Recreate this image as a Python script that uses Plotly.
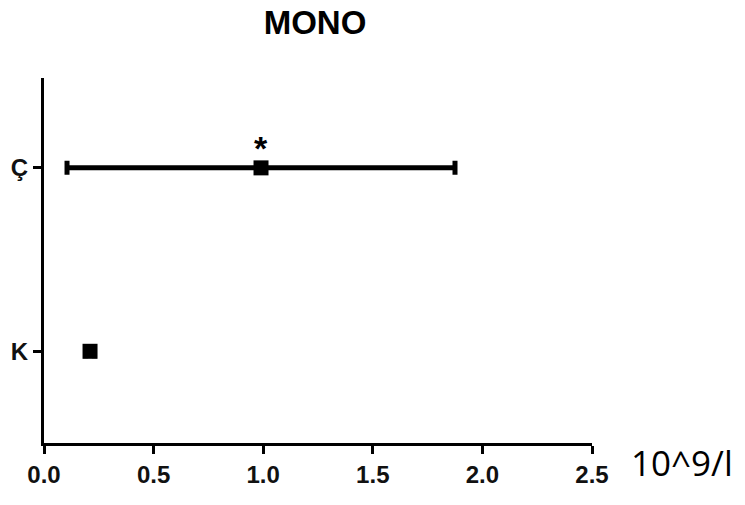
import plotly.graph_objects as go

categories = ["K", "Ç"]
means = [0.21, 0.99]
err_low = [0.02, 0.885]
err_high = [0.02, 0.885]
x_ticks = [0.0, 0.5, 1.0, 1.5, 2.0, 2.5]
x_tick_labels = ["0.0", "0.5", "1.0", "1.5", "2.0", "2.5"]
y_pos = [0, 1]

fig = go.Figure()
fig.add_trace(go.Scatter(
    x=means, y=y_pos, mode="markers",
    marker=dict(symbol="square", size=15, color="black"),
    error_x=dict(type="data", symmetric=False, array=err_high, arrayminus=err_low,
                 color="black", thickness=5, width=7),
    showlegend=False,
))

fig.add_annotation(x=means[1], y=y_pos[1], text="<b>*</b>", showarrow=False,
                   yshift=20, font=dict(family="Arial", size=34, color="black"))
fig.add_annotation(x=1, xref="paper", y=0, yref="paper", text="10^9/l", showarrow=False,
                   xanchor="left", yanchor="middle", xshift=37, yshift=-19,
                   font=dict(family="Open Sans", size=35, color="black"))

fig.update_layout(
    width=745, height=505,
    margin=dict(l=44, r=153, t=78, b=62),
    paper_bgcolor="white", plot_bgcolor="white",
    title=dict(text="<b>MONO</b>", x=315/745, xanchor="center", y=1 - 22/505, yanchor="middle",
               font=dict(family="Arial", size=33, color="black")),
    xaxis=dict(range=[0, 2.5], tickvals=x_ticks, ticktext=[f"<b>{t}</b>" for t in x_tick_labels],
               showline=True, linecolor="black", linewidth=3, ticks="outside", ticklen=8,
               tickwidth=3, tickcolor="black", showgrid=False, zeroline=False,
               tickfont=dict(family="Arial", size=24, color="#111")),
    yaxis=dict(range=[-0.5, 1.49], tickvals=y_pos, ticktext=[f"<b>{c}</b>" for c in categories],
               showline=True, linecolor="black", linewidth=3, ticks="outside", ticklen=8,
               tickwidth=3, tickcolor="black", showgrid=False, zeroline=False,
               tickfont=dict(family="Arial", size=24, color="#111")),
)

fig.write_html("out.html")
